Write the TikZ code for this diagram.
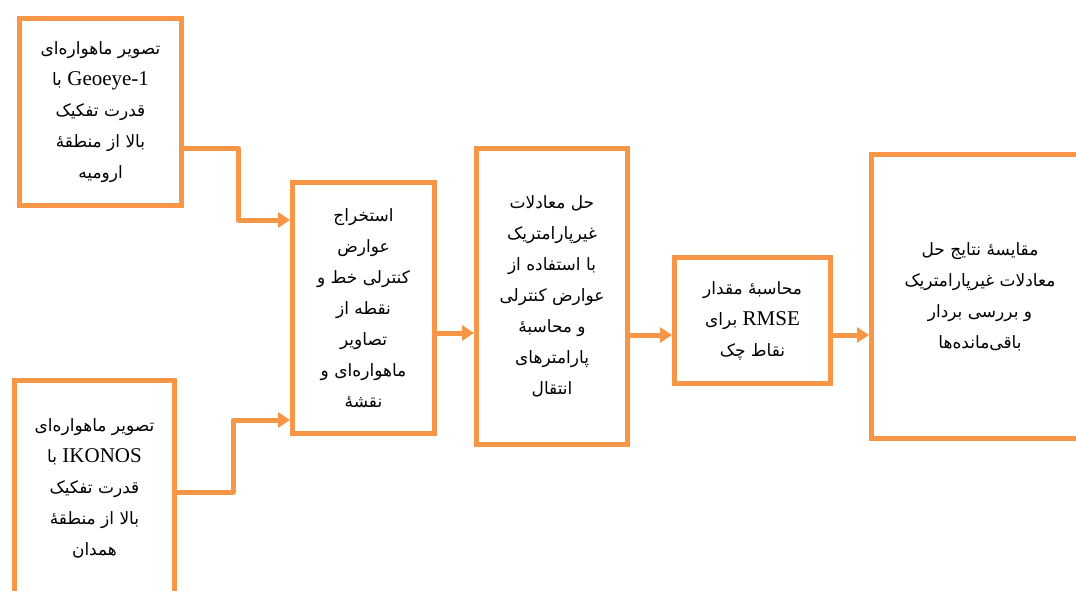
\documentclass[tikz,border=0pt]{standalone}
\usepackage{fontspec}
\setmainfont{Liberation Serif}
\newfontfamily\fa[Script=Arabic]{DejaVu Sans}
\newfontfamily\lat{Liberation Serif}
\TeXXeTstate=1
\usetikzlibrary{arrows.meta}
\definecolor{orng}{HTML}{F79646}
\newcommand{\RL}[1]{\beginR #1\endR}
\newcommand{\LT}[1]{\beginL{\lat\fontsize{21}{31}\selectfont #1}\endL{}}
\tikzset{
  box/.style={draw=orng, line width=5pt, fill=white, rectangle, align=center,
    inner sep=0pt, font=\fa\fontsize{17}{31}\selectfont},
  conn/.style={draw=orng, line width=5pt, line join=round,
    -{Triangle[length=12pt,width=15pt]}},
}
\begin{document}
\begin{tikzpicture}[x=1pt,y=-1pt]
\useasboundingbox (0,0) rectangle (1076,590);
\clip (0,0) rectangle (1076,590);
\fill[white] (0,0) rectangle (1076,590);

\node[box, minimum width=162pt, minimum height=187pt] (b1) at (100.5,112)
  {\RL{تصویر ماهواره‌ای}\\ \RL{\LT{Geoeye-1} با}\\ \RL{قدرت تفکیک}\\ \RL{بالا از منطقهٔ}\\ \RL{ارومیه}};

\node[box, minimum width=160pt, minimum height=215pt] (b2) at (94.5,488)
  {\RL{تصویر ماهواره‌ای}\\ \RL{\LT{IKONOS} با}\\ \RL{قدرت تفکیک}\\ \RL{بالا از منطقهٔ}\\ \RL{همدان}};

\node[box, minimum width=142pt, minimum height=251pt] (b3) at (363.5,308)
  {\RL{استخراج}\\ \RL{عوارض}\\ \RL{کنترلی خط و}\\ \RL{نقطه از}\\ \RL{تصاویر}\\ \RL{ماهواره‌ای و}\\ \RL{نقشهٔ}};

\node[box, minimum width=151pt, minimum height=296pt] (b4) at (552,296.5)
  {\RL{حل معادلات}\\ \RL{غیرپارامتریک}\\ \RL{با استفاده از}\\ \RL{عوارض کنترلی}\\ \RL{و محاسبهٔ}\\ \RL{پارامترهای}\\ \RL{انتقال}};

\node[box, minimum width=156pt, minimum height=126pt] (b5) at (752.5,320.5)
  {\RL{محاسبهٔ مقدار}\\ \RL{\LT{RMSE} برای}\\ \RL{نقاط چک}};

\node[box, minimum width=217pt, minimum height=284pt] (b6) at (980,296.5)
  {\RL{مقایسهٔ نتایج حل}\\ \RL{معادلات غیرپارامتریک}\\ \RL{و  بررسی بردار}\\ \RL{باقی‌مانده‌ها}};

\draw[conn] ([yshift=-36pt]b1.east) -- ++(54,0) |- ([yshift=88pt]b3.west);
\draw[conn] ([yshift=-4pt]b2.east) -- ++(56,0) |- ([yshift=-112pt]b3.west);
\draw[conn] ([yshift=-25pt]b3.east) -- ([yshift=-25pt]b3.east -| b4.west);
\draw[conn] ([yshift=-38.5pt]b4.east) -- ([yshift=-38.5pt]b4.east -| b5.west);
\draw[conn] ([yshift=-14.5pt]b5.east) -- ([yshift=-14.5pt]b5.east -| b6.west);
\end{tikzpicture}
\end{document}
